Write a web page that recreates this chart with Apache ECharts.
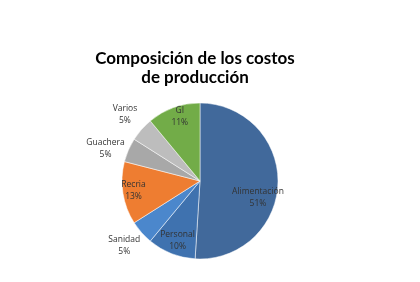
<!DOCTYPE html>
<html><head><meta charset="utf-8">
<script src="https://cdn.jsdelivr.net/npm/echarts@6/dist/echarts.min.js"></script>
<style>html,body{margin:0;padding:0;background:#fff}#c{width:420px;height:282px}</style>
</head><body><div id="c"></div>
<script>
const categories = ['Alimentación','Personal','Sanidad','Recria','Guachera','Varios','GI'];
const values = [51,10,5,13,5,5,11];
const colors = ['#41699B','#3F72AF','#4B87CC','#EE7D31','#A8A8A8','#BDBDBD','#72AC48'];
const labelInside = [true,true,false,true,false,false,true];
// label nudges relative to ECharts' default label placement
const labelShift = [[16,15],[-7,21],[45,3],[-25,3],[45,5],[42,-5],[-6,-25]];

const chart = echarts.init(document.getElementById('c'));
chart.setOption({
  animation:false,
  title:{text:'Composición de los costos\nde producción',left:190,top:44,textAlign:'center',
    textStyle:{fontFamily:'Lato',fontWeight:'bold',fontSize:17,color:'#000',lineHeight:19}},
  series:[{
    type:'pie',center:[200,181],radius:78,startAngle:90,clockwise:true,
    avoidLabelOverlap:false,
    itemStyle:{borderColor:'#fff',borderWidth:0.5},
    labelLine:{show:false},
    data:categories.map((n,i)=>({name:n,value:values[i],itemStyle:{color:colors[i]},
      label:{position:labelInside[i]?'inside':'outside'}})),
    label:{formatter:p=>p.name+'\n'+p.value+'%',fontFamily:'Open Sans',fontSize:8.5,color:'#333',lineHeight:12,align:'center',alignTo:'none',distance:12},
    labelLayout:function(p){
      const r=p.labelRect, s=labelShift[p.dataIndex];
      return {x:r.x+r.width/2+s[0], y:r.y+r.height/2+s[1], align:'center', verticalAlign:'middle'};
    }
  }]
});
</script></body></html>
